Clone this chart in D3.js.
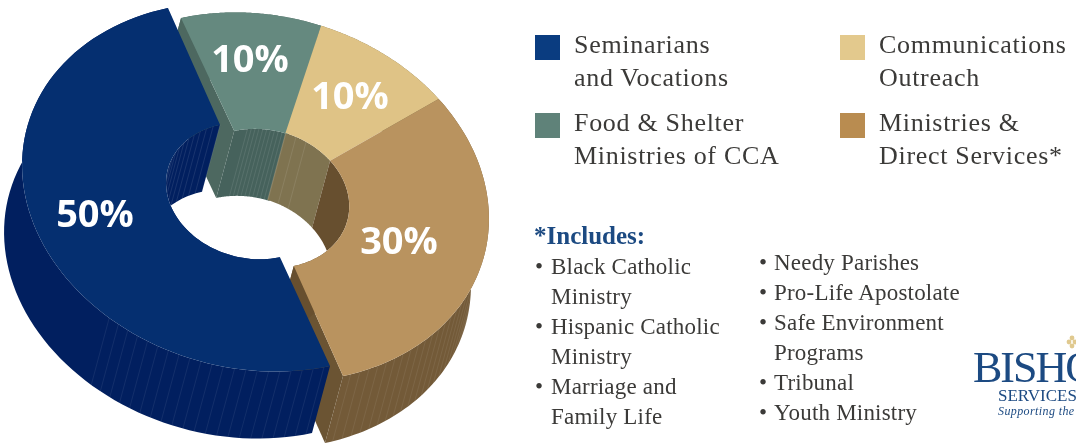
<!DOCTYPE html>
<html>
<head>
<meta charset="utf-8">
<script src="https://cdnjs.cloudflare.com/ajax/libs/d3/7.8.5/d3.min.js"></script>
<style>
  html, body { margin: 0; padding: 0; background: #fff; overflow: hidden; }
  svg { filter: blur(0.4px); }
  text { font-family: "Liberation Serif", serif; fill: #3b3a38; }
</style>
</head>
<body>
<div id="chart"></div>
<script>
// slices in clockwise drawing order, starting at the blue/green cut
const categories = ["Food & Shelter Ministries of CCA", "Communications Outreach", "Ministries & Direct Services*", "Seminarians and Vocations"];
const values = [10, 10, 30, 50];
const valueLabels = ["10%", "10%", "30%", "50%"];

const legendLeft = [["Seminarians", "and Vocations"], ["Food & Shelter", "Ministries of CCA"]];
const legendRight = [["Communications", "Outreach"], ["Ministries &", "Direct Services*"]];
const includesLeft = ["Black Catholic", "Ministry", "Hispanic Catholic", "Ministry", "Marriage and", "Family Life"];
const includesRight = ["Needy Parishes", "Pro-Life Apostolate", "Safe Environment", "Programs", "Tribunal", "Youth Ministry"];

const width = 1076, height = 444;

const topColors = ["#65897f", "#dfc386", "#b9935f", "#052f70"];
const innerColors = ["#46625c", "#7f7350", "#674f2f", "#011f5f"];
const wallColors = ["#4d6860", "#7f7350", "#735a38", "#011f5f"];
const cutColors = ["#4d6860", "#7f7350", "#6b5433", "#011f5f"];

// the disc is an affine image of a unit circle
const center = [262, 197];
const axisU = [-81, -179], axisV = [212, -45];
const innerRatios = [0.38, 0.38, 0.38, 0.37];
const depth = [-18, 67];
const offsets = [[0, 0], [0, 0], [0, 0], [-13, -10]];
const innerOffsets = [[3, 2], [1, 1], [1, 1], [-12, -6]];

const svg = d3.select("#chart").append("svg")
  .attr("width", width)
  .attr("height", height)
  .attr("viewBox", `0 0 ${width} ${height}`);

const slices = d3.pie().sort(null).value(d => d)(values);

function point(i, angle, ratio, down) {
  const c = Math.cos(angle) * ratio, s = Math.sin(angle) * ratio;
  const off = ratio < 1 ? innerOffsets[i] : offsets[i];
  return [
    center[0] + off[0] + axisU[0] * c + axisV[0] * s + (down ? depth[0] : 0),
    center[1] + off[1] + axisU[1] * c + axisV[1] * s + (down ? depth[1] : 0)
  ];
}

function arcPoints(i, a0, a1, ratio, down) {
  return d3.range(0, 81).map(k => point(i, a0 + (a1 - a0) * k / 80, ratio, down));
}

const line = d3.line();
const closed = pts => line(pts) + "Z";

const walls = svg.append("g");

// outer walls of green, tan and brown
slices.slice(0, 3).forEach((d, i) => {
  const t = arcPoints(i, d.startAngle, d.endAngle, 1, false);
  const b = arcPoints(i, d.startAngle, d.endAngle, 1, true).reverse();
  walls.append("path").attr("d", closed(t.concat(b))).attr("fill", wallColors[i]);
});

// the two cut faces you can see through the gaps
[[0, slices[0].startAngle], [2, slices[2].endAngle]].forEach(([i, a]) => {
  const r = innerRatios[i];
  walls.append("path")
    .attr("d", closed([point(i, a, r, false), point(i, a, 1, false), point(i, a, 1, true), point(i, a, r, true)]))
    .attr("fill", cutColors[i]);
});

// blue wall sits in front of both cuts
walls.append("path")
  .attr("d", closed(arcPoints(3, slices[3].startAngle, slices[3].endAngle, 1, false)
    .concat(arcPoints(3, slices[3].startAngle, slices[3].endAngle, 1, true).reverse())))
  .attr("fill", wallColors[3]);

// facet lines on the front of the outer wall
const facets = [[2, 1.62, 3.14, 0.045], [3, 3.17, 4.2, 0.05]];
facets.forEach(([i, from, to, step]) => {
  d3.range(from, to, step).forEach(a => {
    walls.append("path")
      .attr("d", line([point(i, a, 1, false), point(i, a, 1, true)]))
      .attr("stroke", "#fff").attr("stroke-opacity", 0.12).attr("stroke-width", 0.6);
  });
});

// inner walls of the hole
slices.forEach((d, i) => {
  const t = arcPoints(i, d.startAngle, d.endAngle, innerRatios[i], false);
  const b = arcPoints(i, d.startAngle, d.endAngle, innerRatios[i], true).reverse();
  walls.append("path").attr("d", closed(t.concat(b))).attr("fill", innerColors[i]);
});

// hairlines on the inner walls
const innerSteps = [0.045, 0.13, 0, 0.09];
slices.forEach((d, i) => {
  if (!innerSteps[i]) return;
  const from = i === 3 ? d.endAngle - 0.9 : d.startAngle + (i === 0 ? 0.16 : 0);
  const to = i === 3 ? d.endAngle : (i === 1 ? d.startAngle + 0.38 : d.endAngle);
  d3.range(from, to, innerSteps[i]).forEach(a => {
    walls.append("path")
      .attr("d", line([point(i, a, innerRatios[i], false), point(i, a, innerRatios[i], true)]))
      .attr("stroke", "#fff").attr("stroke-opacity", 0.16).attr("stroke-width", 0.6);
  });
});

// top faces go on last so they hide everything behind them
svg.append("g").selectAll("path")
  .data(slices)
  .join("path")
  .attr("d", (d, i) => closed(
    arcPoints(i, d.startAngle, d.endAngle, 1, false)
      .concat(arcPoints(i, d.startAngle, d.endAngle, innerRatios[i], false).reverse())))
  .attr("fill", (d, i) => topColors[i]);

// percentage labels
const labelPos = [[250, 72], [350, 109], [399, 254], [95, 227]];
svg.append("g").selectAll("text")
  .data(valueLabels)
  .join("text")
  .attr("x", (d, i) => labelPos[i][0])
  .attr("y", (d, i) => labelPos[i][1])
  .attr("text-anchor", "middle")
  .style("font-family", "'Open Sans', sans-serif")
  .style("font-weight", 700)
  .style("font-size", "38px")
  .style("fill", "#fff")
  .text(d => d);

// legend
const legend = svg.append("g").style("font-size", "26px").style("letter-spacing", "0.7px");
function legendEntry(x, y, color, lines) {
  legend.append("rect").attr("x", x).attr("y", y - 9).attr("width", 25).attr("height", 25).attr("fill", color);
  lines.forEach((t, k) => {
    legend.append("text").attr("x", x + 39).attr("y", y + 9 + k * 33).text(t);
  });
}
legendEntry(535, 44, "#0a3c80", legendLeft[0]);
legendEntry(535, 122, "#5f8279", legendLeft[1]);
legendEntry(840, 44, "#e3c98d", legendRight[0]);
legendEntry(840, 122, "#b98c50", legendRight[1]);

// includes list
svg.append("text").attr("x", 534).attr("y", 244)
  .style("font-size", "25px").style("font-weight", 700).style("fill", "#1c4a82")
  .text("*Includes:");

const bulletStartsLeft = [0, 2, 4], bulletStartsRight = [0, 1, 2, 4, 5];
function bulletColumn(items, starts, xBullet, xText, y0, step) {
  const g = svg.append("g").style("font-size", "23px").style("letter-spacing", "0.2px");
  items.forEach((t, k) => {
    const y = y0 + k * step;
    if (starts.includes(k)) g.append("text").attr("x", xBullet).attr("y", y).text("•");
    g.append("text").attr("x", xText).attr("y", y).text(t);
  });
}
bulletColumn(includesLeft, bulletStartsLeft, 535, 551, 274, 30);
bulletColumn(includesRight, bulletStartsRight, 759, 774, 270, 30);

// logo, runs off the right edge like the original crop
const logoOrnament = [[1069, 342], [1072, 338], [1075, 342], [1072, 346]];
svg.append("g").selectAll("circle")
  .data(logoOrnament)
  .join("circle")
  .attr("cx", d => d[0]).attr("cy", d => d[1]).attr("r", 2.4)
  .attr("fill", "#e0c98f");
svg.append("text").attr("x", 973).attr("y", 382).style("font-size", "44px").style("letter-spacing", "-2px").style("fill", "#1c4a82").text("BISHOPS");
svg.append("text").attr("x", 998).attr("y", 401).style("font-size", "17px").style("fill", "#1c4a82").text("SERVICES");
svg.append("text").attr("x", 998).attr("y", 415).style("font-size", "12px").style("font-style", "italic").style("letter-spacing", "0.4px").style("fill", "#1c4a82").text("Supporting the");
</script>
</body>
</html>
